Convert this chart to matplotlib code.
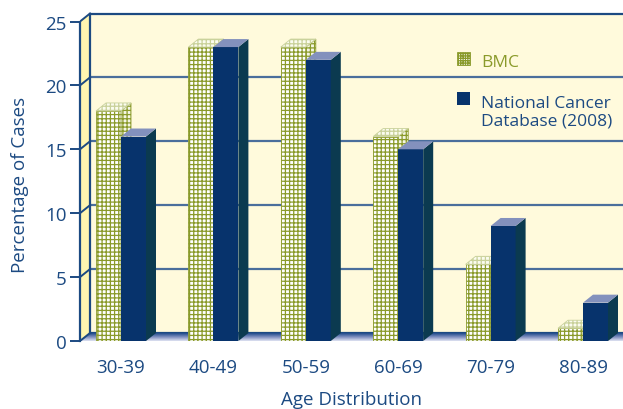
import matplotlib
matplotlib.use("Agg")
import matplotlib.pyplot as plt
import numpy as np
from matplotlib.patches import Polygon, Rectangle
from matplotlib.colors import LinearSegmentedColormap

categories = ['30-39', '40-49', '50-59', '60-69', '70-79', '80-89']
bmc = [18, 23, 23, 16, 6, 1]
ncdb = [16, 23, 22, 15, 9, 3]
yticks = [0, 5, 10, 15, 20, 25]
series_names = ['BMC', 'National Cancer\nDatabase (2008)']

plt.rcParams['font.family'] = ['Open Sans', 'DejaVu Sans']
plt.rcParams['hatch.linewidth'] = 0.9

FS = 13.5
FS_LEG = 12.5
W, H = 623, 410
fig = plt.figure(figsize=(W / 100, H / 100), dpi=100)
px_left, px_right, px_y0, px_top = 80, 623, 342, 0
ax = fig.add_axes([px_left / W, (H - px_y0) / H, (px_right - px_left) / W, (px_y0 - px_top) / H])
ppu_y = 12.78
ppu_x = 92.4
x0 = 121
xmin = -(x0 - px_left) / ppu_x
xmax = (px_right - x0) / ppu_x
ymax = px_y0 / ppu_y
ax.set_xlim(xmin, xmax)
ax.set_ylim(0, ymax)

DX = 10 / ppu_x
DY = 8 / ppu_y
ytop = yticks[-1]

blue_dark = '#1c4a82'
grid_col = '#4a6e9c'
wall_col = '#fffadc'
lwall_col = '#fff6b0'
olive = '#8a9a2a'
navy = '#07336c'
navy_side = '#0b3a50'
navy_top = '#8391bd'

# back wall
ax.add_patch(Rectangle((xmin + DX, DY), xmax - xmin, ytop, facecolor=wall_col,
                       edgecolor='none', zorder=0))
for t in yticks:
    ax.plot([xmin + DX, xmax], [t + DY, t + DY], color=grid_col if t not in (0, ytop) else blue_dark,
            lw=1.6, zorder=1, solid_capstyle='butt')
    ax.plot([xmin, xmin + DX], [t, t + DY], color=blue_dark, lw=1.4, zorder=3)
# left wall
ax.add_patch(Polygon([[xmin, 0], [xmin + DX, DY], [xmin + DX, ytop + DY], [xmin, ytop]],
                     closed=True, facecolor=lwall_col, edgecolor='none', zorder=2))
ax.plot([xmin + DX, xmin + DX], [DY, ytop + DY], color=blue_dark, lw=1.6, zorder=3)
# floor with gradient
floor = Polygon([[xmin, 0], [xmin + DX, DY], [xmax + DX, DY], [xmax, 0]], closed=True,
                facecolor='none', edgecolor='none', zorder=2)
ax.add_patch(floor)
grad = np.linspace(0, 1, 50).reshape(-1, 1)
cmap = LinearSegmentedColormap.from_list('fl', ['#dfe3f2', '#8090c0', '#1f4a8a'])
im = ax.imshow(grad, extent=[xmin, xmax + DX, 0, DY], origin='lower', cmap=cmap,
               aspect='auto', zorder=2)
im.set_clip_path(floor)

# bars
bw = 25 / ppu_x
x = np.arange(len(categories))

def draw_bar(xl, h, front, side, top, hatch=None, edge='none', z=5):
    lw = 0.6 if hatch else 0
    ax.bar([xl], [h], width=bw, align='edge', color=front, edgecolor=edge,
           hatch=hatch, linewidth=lw, zorder=z)
    ax.add_patch(Polygon([[xl + bw, 0], [xl + bw + DX, DY], [xl + bw + DX, h + DY], [xl + bw, h]],
                         closed=True, facecolor=side, edgecolor=edge, hatch=hatch,
                         linewidth=lw, zorder=z))
    ax.add_patch(Polygon([[xl, h], [xl + DX, h + DY], [xl + bw + DX, h + DY], [xl + bw, h]],
                         closed=True, facecolor=top, edgecolor=('#c9d19a' if hatch else 'none'),
                         hatch=hatch, linewidth=lw, zorder=z))

for i in range(len(categories)):
    draw_bar(x[i] - bw, bmc[i], 'white', '#f4f6e4', '#fbfcef', hatch='++++', edge=olive, z=5 + 2 * i)
    draw_bar(x[i], ncdb[i], navy, navy_side, navy_top, z=6 + 2 * i)

# axes styling
for s in ['top', 'right', 'bottom']:
    ax.spines[s].set_visible(False)
ax.spines['left'].set_bounds(0, ytop)
ax.spines['left'].set_color(blue_dark)
ax.spines['left'].set_linewidth(1.6)
ax.spines['left'].set_zorder(4)
ax.set_yticks(yticks)
ax.set_yticklabels([str(t) for t in yticks])
ax.tick_params(axis='y', length=7.5, width=1.4, color=blue_dark, labelcolor=blue_dark,
               labelsize=FS, pad=2)
ax.set_xticks(x)
ax.set_xticklabels(categories)
ax.tick_params(axis='x', length=0, labelcolor=blue_dark, labelsize=FS, pad=12)
ax.set_xlabel('Age Distribution', color=blue_dark, fontsize=FS, labelpad=10)
fig.text(20 / W, 1 - 185 / H, 'Percentage of Cases', rotation=90, color=blue_dark,
         fontsize=FS, ha='center', va='center')

# legend
def px2fig(px, py):
    return px / W, 1 - py / H

lx, ly = px2fig(457, 66)
sw, sh = 13 / W, 13 / H
fig.patches.append(Rectangle((lx, ly), sw, sh, transform=fig.transFigure, facecolor='white',
                             edgecolor=olive, hatch='+++++++', linewidth=0.6, zorder=10))
tx, ty = px2fig(481, 63)
fig.text(tx, ty, series_names[0], color=olive, fontsize=FS_LEG, va='center', ha='left')
lx2, ly2 = px2fig(457, 106)
fig.patches.append(Rectangle((lx2, ly2), sw, sh, transform=fig.transFigure, facecolor=navy,
                             edgecolor='none', zorder=10))
tx2, ty2 = px2fig(481, 113)
fig.text(tx2, ty2, series_names[1], color=blue_dark, fontsize=FS_LEG, va='center', ha='left',
         linespacing=1.1)

fig.savefig('out.png', dpi=100)
